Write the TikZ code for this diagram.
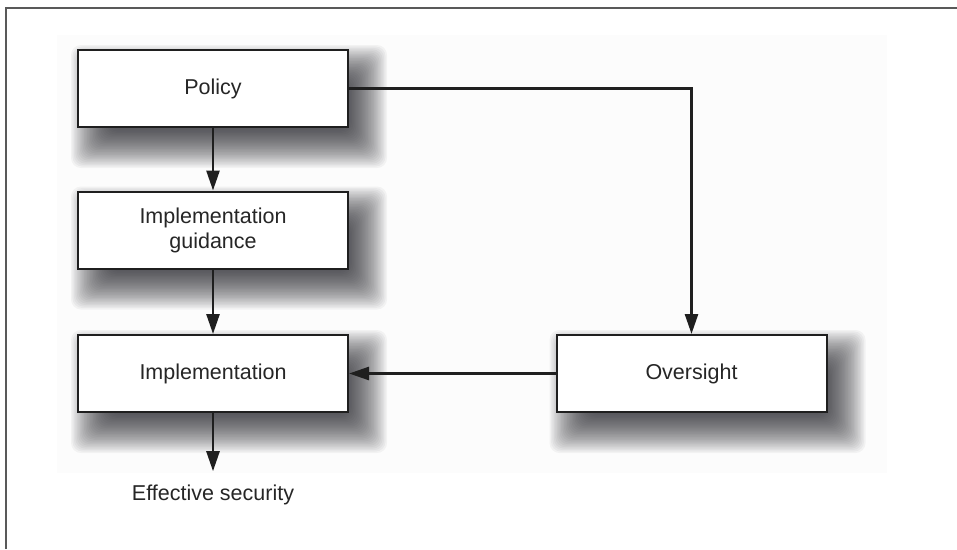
\documentclass[tikz,border=0pt]{standalone}
\usepackage{fontspec}
\setmainfont{Liberation Sans}
\usetikzlibrary{arrows.meta,calc,backgrounds}
\definecolor{shadowcol}{RGB}{30,30,38}
\begin{document}
\begin{tikzpicture}[x=1pt,y=-1pt,
  box/.style={draw=black!88,line width=2pt,fill=white,minimum width=270pt,minimum height=77pt,inner sep=0pt,align=center,font=\fontsize{21.5}{25}\selectfont,text=black!85},
  conn/.style={draw=black!88,line width=2.6pt,-{Triangle[length=20pt,width=13pt]}},
  lbl/.style={font=\fontsize{21.5}{25}\selectfont,text=black!85,inner sep=13pt,anchor=base},
  frameline/.style={draw=black!65,line width=1.5pt}]
\useasboundingbox (0,0) rectangle (957,549);
\draw[frameline] (6,549) -- (6,8) -- (957,8);
\node[box] (pol) at (213,88.5) {Policy};
\node[box] (gui) at (213,230) {Implementation\\guidance};
\node[box] (imp) at (213,373.5) {Implementation};
\node[box] (ove) at (691.5,373.5) {Oversight};
\node[lbl] (eff) at (213,500) {Effective security};
\begin{scope}[on background layer]
  \fill[black!1] (57,35) rectangle (887,473);
  \foreach \n in {pol,gui,imp,ove}{
    \foreach \i in {0,...,30}{
      \pgfmathsetmacro\e{22-1.4667*\i}
      \fill[shadowcol,opacity=0.045,rounded corners=10pt]
        ($(\n.north west)+(16-\e,18-\e)$) rectangle ($(\n.south east)+(16+\e,18+\e)$);
    }
  }
\end{scope}
\draw[conn] (pol) -- (gui);
\draw[conn] (gui) -- (imp);
\draw[conn] (imp) -- (eff.north);
\draw[conn] (pol.east) -| (ove.north);
\draw[conn] (ove) -- (imp);
\end{tikzpicture}
\end{document}
